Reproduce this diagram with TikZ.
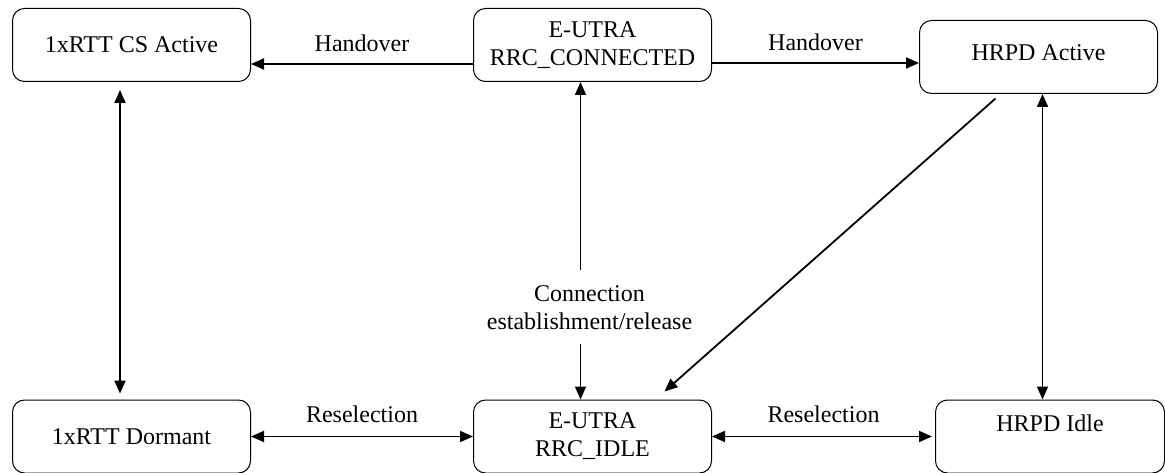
\documentclass[tikz,border=0pt]{standalone}
\usepackage{fontspec}
\setmainfont{Liberation Serif}
\usetikzlibrary{arrows.meta, positioning}

\begin{document}
\begin{tikzpicture}[
        x=1pt, y=-1pt,
        node distance=222pt,
        state/.style={rectangle, draw=black, line width=1pt, rounded corners=12pt, minimum width=238pt, minimum height=73pt, inner sep=0pt, align=center, font=\fontsize{24}{28}\selectfont},
        arrow/.style={-{Triangle[length=13pt,width=11pt]}, line width=1.8pt},
        twoway/.style={{Triangle[length=13pt,width=11pt]}-{Triangle[length=13pt,width=11pt]}, line width=1.8pt},
        lbl/.style={font=\fontsize{24}{28}\selectfont, inner sep=3pt, align=center}
    ]
        \useasboundingbox (0,0) rectangle (1165,473);

        \node[state] (csact) at (131.5,45) {1xRTT CS Active};
        \node[state, right=222pt of csact] (conn) {E-UTRA\\RRC\_CONNECTED};
        \node[state, right=207pt of conn, yshift=-12pt, text depth=8pt] (hrpdact) {HRPD Active};
        \node[state, below=317.5pt of csact] (dormant) {1xRTT Dormant};
        \node[state, right=222pt of dormant] (idle) {E-UTRA\\RRC\_IDLE};
        \node[state, right=223pt of idle, minimum width=229pt, text depth=27pt] (hrpdidle) {HRPD Idle};

        \draw[arrow] ([yshift=-19pt]conn.west) -- node[lbl, above=8pt] {Handover} ([yshift=-19pt]csact.east);
        \draw[arrow] ([yshift=-18pt]conn.east) -- node[lbl, above=8pt] {Handover} ([yshift=-6pt]hrpdact.west);
        \draw[twoway] (dormant) -- node[lbl, above=10pt] {Reselection} (idle);
        \draw[twoway, shorten >=3pt] (idle) -- node[lbl, above=10pt] {Reselection} (hrpdidle);
        \draw[twoway, shorten <=8pt, shorten >=6pt] ([xshift=-11.5pt]csact.south) -- ([xshift=-11.5pt]dormant.north);
        \draw[twoway] ([xshift=-12pt]conn.south) -- node[lbl, pos=0.71, xshift=9pt, fill=white, inner xsep=2pt, inner ysep=15pt] {Connection\\establishment/release} ([xshift=-12pt]idle.north);
        \draw[twoway] ([xshift=4pt]hrpdact.south) -- ([xshift=-7.5pt]hrpdidle.north);
        \draw[arrow] ([xshift=-43pt,yshift=-4.5pt]hrpdact.south) -- ([xshift=72pt,yshift=8pt]idle.north);
    \end{tikzpicture}
\end{document}
